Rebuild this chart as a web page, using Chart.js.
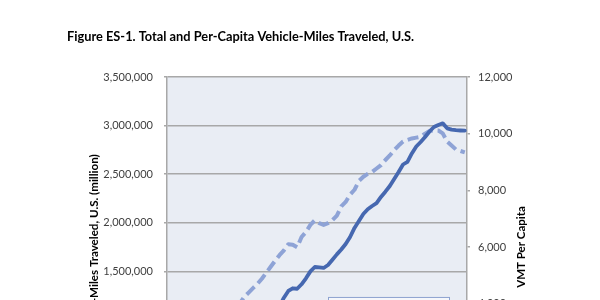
<!DOCTYPE html>
<html>
<head>
<meta charset="utf-8">
<script src="https://cdn.jsdelivr.net/npm/chart.js@4/dist/chart.umd.min.js"></script>
<style>
  html, body { margin: 0; padding: 0; background: #ffffff; overflow: hidden; }
  #wrap { width: 600px; height: 300px; overflow: hidden; }
</style>
</head>
<body>
<div id="wrap"><canvas id="c" width="600" height="460"></canvas></div>
<script>
const chartTitle = "Figure ES-1. Total and Per-Capita Vehicle-Miles Traveled, U.S.";
const leftAxisTitle = "Vehicle-Miles Traveled, U.S. (million)";
const rightAxisTitle = "VMT Per Capita";
const seriesNames = ["Vehicle-Miles Traveled", "VMT Per Capita"];

const years = ["1945","1946","1947","1948","1949","1950","1951","1952","1953","1954",
  "1955","1956","1957","1958","1959","1960","1961","1962","1963","1964",
  "1965","1966","1967","1968","1969","1970","1971","1972","1973","1974",
  "1975","1976","1977","1978","1979","1980","1981","1982","1983","1984",
  "1985","1986","1987","1988","1989","1990","1991","1992","1993","1994",
  "1995","1996","1997","1998","1999","2000","2001","2002","2003","2004",
  "2005","2006","2007","2008","2009","2010","2011","2012"];

const totalVMT = [250000,340880,370894,397957,424461,458246,491093,513581,544433,561963,
  605646,627843,647004,664653,700480,718762,737421,766734,805249,846298,
  887812,925899,964005,1015869,1070000,1140000,1228000,1297000,1325000,1320000,
  1366000,1427000,1499000,1544000,1539000,1534000,1565000,1619000,1674000,1724000,
  1781000,1853000,1946000,2018000,2090000,2139000,2172000,2201000,2265000,2319000,
  2378000,2450000,2522000,2599000,2627000,2713000,2784000,2831000,2882000,2939000,
  2985000,3006000,3023000,2971000,2958000,2952000,2949000,2947000];

const perCapitaVMT = [1790,2410,2570,2710,2840,3010,3180,3270,3410,3460,
  3650,3720,3760,3800,3940,3980,4010,4235,4390,4550,
  4700,4880,5090,5300,5510,5710,5880,6100,6080,5990,
  6350,6530,6780,6940,6840,6780,6840,6950,7110,7430,
  7590,7850,8020,8330,8480,8580,8650,8770,8890,9070,
  9230,9420,9580,9720,9780,9830,9860,9890,10000,10090,
  10120,10110,10010,9720,9580,9440,9390,9340];

const leftTicks = [0,500000,1000000,1500000,2000000,2500000,3000000,3500000];
const rightTicks = [0,2000,4000,6000,8000,10000,12000];

const SOLID = '#4668b0';
const DASHED = '#8ea3d6';
const FONT = 'Lato';

const plotBg = {
  id: 'plotBg',
  beforeDraw(chart) {
    const {ctx, chartArea: a} = chart;
    ctx.save();
    ctx.fillStyle = '#e9edf4';
    ctx.fillRect(a.left, a.top, a.right - a.left, a.bottom - a.top);
    ctx.restore();
  }
};

const rightTitle = {
  id: 'rightTitle',
  afterDraw(chart) {
    const {ctx, chartArea: a} = chart;
    const s = chart.scales.yR;
    ctx.save();
    ctx.translate(s.right - 78.5, (a.top + a.bottom) / 2);
    ctx.rotate(-Math.PI / 2);
    ctx.font = 'bold 11.5px ' + FONT;
    ctx.fillStyle = '#000000';
    ctx.textAlign = 'center';
    ctx.textBaseline = 'middle';
    ctx.fillText(rightAxisTitle, 0, 0);
    ctx.restore();
  }
};

const insideLegend = {
  id: 'insideLegend',
  afterDatasetsDraw(chart) {
    const {ctx, chartArea: a} = chart;
    const x = a.left + 161, y = a.top + 220, w = 121, h = 44;
    ctx.save();
    ctx.fillStyle = '#f5f7fb';
    ctx.strokeStyle = '#8ea3d0';
    ctx.lineWidth = 1;
    ctx.fillRect(x, y, w, h);
    ctx.strokeRect(x + 0.5, y + 0.5, w, h);
    const ds = chart.data.datasets;
    ctx.font = '10px ' + FONT;
    ctx.fillStyle = '#404040';
    ctx.textBaseline = 'middle';
    ds.forEach((d, i) => {
      const ly = y + 13 + i * 18;
      ctx.strokeStyle = d.borderColor;
      ctx.lineWidth = 3;
      ctx.setLineDash(d.borderDash || []);
      ctx.beginPath(); ctx.moveTo(x + 6, ly); ctx.lineTo(x + 30, ly); ctx.stroke();
      ctx.setLineDash([]);
      ctx.fillText(d.label, x + 34, ly);
    });
    ctx.restore();
  }
};

new Chart(document.getElementById('c'), {
  type: 'line',
  data: {
    labels: years,
    datasets: [
      { label: seriesNames[0], data: totalVMT, yAxisID: 'yL', borderColor: SOLID,
        borderWidth: 3.8, pointRadius: 0, tension: 0, borderJoinStyle: 'round', borderCapStyle: 'round' },
      { label: seriesNames[1], data: perCapitaVMT, yAxisID: 'yR', borderColor: DASHED,
        borderWidth: 4, borderDash: [11, 5], pointRadius: 0, tension: 0, borderJoinStyle: 'round' }
    ]
  },
  options: {
    responsive: false,
    animation: false,
    events: [],
    layout: { padding: { left: 67, right: 0, top: 29.5, bottom: 13 } },
    plugins: {
      legend: { display: false },
      tooltip: { enabled: false },
      title: {
        display: true, text: chartTitle, align: 'start', color: '#000000',
        font: { family: FONT, size: 12.8, weight: 'bold', lineHeight: 1.2 },
        padding: { top: 0, bottom: 32.1 }
      }
    },
    scales: {
      x: {
        type: 'category', offset: true,
        grid: { display: false },
        border: { display: true, color: '#a6a6a6', width: 1.5 },
        ticks: { color: '#404040', font: { family: FONT, size: 11 }, maxRotation: 0, autoSkip: true, maxTicksLimit: 14 },
        afterFit(s) { s.height = 30; }
      },
      yL: {
        position: 'left', min: 0, max: 3500000,
        afterBuildTicks(s) { s.ticks = leftTicks.map(v => ({ value: v })); },
        grid: { color: '#a8a8a8', lineWidth: 1.5, tickLength: 3, drawTicks: true },
        border: { display: true, color: '#a8a8a8', width: 1.5 },
        ticks: { color: '#404040', padding: 11, font: { family: FONT, size: 11 },
          callback: v => Number(v).toLocaleString('en-US') },
        title: { display: true, text: leftAxisTitle, color: '#000000',
          font: { family: FONT, size: 11.6, weight: 'bold', lineHeight: 1.2 }, padding: { top: 20.5, bottom: 0 } },
        afterFit(s) { s.width = 100; }
      },
      yR: {
        position: 'right', min: 0, max: 12000,
        afterBuildTicks(s) { s.ticks = rightTicks.map(v => ({ value: v })); },
        grid: { drawOnChartArea: false, color: '#a8a8a8', lineWidth: 1.5, tickLength: 3 },
        border: { display: true, color: '#a8a8a8', width: 1.5 },
        ticks: { color: '#404040', padding: 8, font: { family: FONT, size: 11 },
          callback: v => Number(v).toLocaleString('en-US') },
        title: { display: false },
        afterFit(s) { s.width = 133; }
      }
    }
  },
  plugins: [plotBg, insideLegend, rightTitle]
});
</script>
</body>
</html>
